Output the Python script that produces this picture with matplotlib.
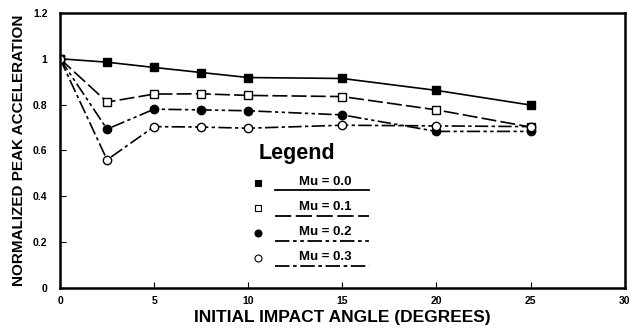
import matplotlib
matplotlib.use("Agg")
import matplotlib.pyplot as plt

angles = [0, 2.5, 5, 7.5, 10, 15, 20, 25]
mu_00 = [1.0, 0.985, 0.962, 0.940, 0.918, 0.914, 0.862, 0.798]
mu_01 = [1.0, 0.811, 0.846, 0.847, 0.840, 0.835, 0.777, 0.702]
mu_02 = [1.0, 0.693, 0.780, 0.777, 0.773, 0.755, 0.683, 0.683]
mu_03 = [1.0, 0.559, 0.704, 0.702, 0.697, 0.710, 0.707, 0.704]
labels = ["Mu = 0.0", "Mu = 0.1", "Mu = 0.2", "Mu = 0.3"]
xticks = [0, 5, 10, 15, 20, 25, 30]
yticks = [0, 0.2, 0.4, 0.6, 0.8, 1.0, 1.2]
yticklabels = ["0", "0.2", "0.4", "0.6", "0.8", "1", "1.2"]

plt.rcParams['font.family'] = ['Liberation Sans', 'DejaVu Sans']
plt.rcParams['font.weight'] = 'bold'

fig = plt.figure(figsize=(6.33, 3.31), dpi=100)
ax = fig.add_axes([0.0948, 0.130, 0.892, 0.831])

series = [mu_00, mu_01, mu_02, mu_03]
styles = [
    dict(marker='s', mfc='black', ls='-'),
    dict(marker='s', mfc='white', ls=(0, (9, 2.5))),
    dict(marker='o', mfc='black', ls=(0, (8, 2, 2, 2, 2, 2))),
    dict(marker='o', mfc='white', ls=(0, (8, 2, 2, 2))),
]
for ys, st in zip(series, styles):
    ax.plot(angles, ys, color='black', lw=1.2, ms=6, mec='black', mew=1.0,
            marker=st['marker'], mfc=st['mfc'], linestyle=st['ls'])

ax.set_xlim(0, 30)
ax.set_ylim(0, 1.2)
ax.set_xticks(xticks)
ax.set_xticklabels([str(t) for t in xticks])
ax.set_yticks(yticks)
ax.set_yticklabels(yticklabels)
ax.tick_params(direction='in', length=4, width=0.8, labelsize=7.5, pad=9)
ax.tick_params(axis='x', pad=6)
for sp in ax.spines.values():
    sp.set_linewidth(1.8)

ax.set_xlabel("INITIAL IMPACT ANGLE (DEGREES)", fontsize=12.5, fontweight='bold', labelpad=3)
ax.set_ylabel("NORMALIZED PEAK ACCELERATION", fontsize=11, fontweight='bold', labelpad=5)

# Legend drawn manually
ax.text(12.6, 0.585, "Legend", fontsize=15.5, fontweight='bold', ha='center', va='center')
ys_leg = [0.459, 0.349, 0.240, 0.131]
for lab, st, yl in zip(labels, styles, ys_leg):
    ax.plot([10.5], [yl], marker=st['marker'], mfc=st['mfc'], mec='black', ms=5,
            mew=0.8, color='black', clip_on=False)
    ax.text(14.1, yl + 0.005, lab, fontsize=9.5, fontweight='bold', ha='center', va='center')
    ax.plot([11.4, 16.4], [yl - 0.033, yl - 0.033], color='black', lw=1.3, linestyle=st['ls'])

fig.savefig("out.png", dpi=100)
